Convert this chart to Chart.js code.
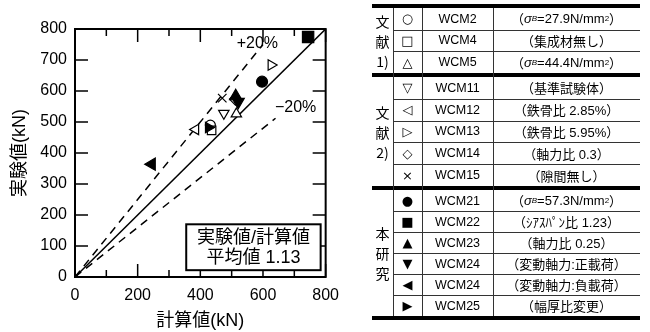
<!DOCTYPE html>
<html>
<head>
<meta charset="utf-8">
<script src="https://cdn.jsdelivr.net/npm/chart.js@4.4.0/dist/chart.umd.min.js"></script>
<style>
body { margin: 0; background: #fff; width: 650px; height: 332px; overflow: hidden; position: relative;
       font-family: 'Liberation Sans', 'Noto Sans CJK JP', sans-serif; color: #000; }
#wrap { position: absolute; left: 0; top: 0; width: 348px; height: 332px; }
#legend { position: absolute; left: 0; top: 0; width: 650px; height: 332px; pointer-events: none; }
.ln { position: absolute; background: #000; }
.cell { position: absolute; display: flex; align-items: center; justify-content: center; white-space: nowrap; }
.grp { position: absolute; display: flex; flex-direction: column; align-items: center; justify-content: center;
       font-family: 'Noto Sans CJK JP', sans-serif; font-size: 14px; line-height: 20px; }
.sym { font-family: 'DejaVu Sans', sans-serif; font-size: 13px; }
.name { font-size: 12.5px; }
.note { font-family: 'Liberation Sans', 'Noto Sans CJK JP', sans-serif; font-size: 13px; }
.note sub, .note sup { font-size: 8px; }
</style>
</head>
<body>
<div id="wrap"><canvas id="scatterChart" width="348" height="332"></canvas></div>
<div id="legend"></div>
<script>
// specimens, in table order
var specimens = ['WCM2', 'WCM4', 'WCM5', 'WCM11', 'WCM12', 'WCM13', 'WCM14', 'WCM15',
                 'WCM21', 'WCM22', 'WCM23', 'WCM24', 'WCM24', 'WCM25'];
var notes = [
    '（ <i>σ</i><sub><i>B</i></sub>=27.9N/mm<sup>2</sup>）',
    '（集成材無し）',
    '（ <i>σ</i><sub><i>B</i></sub>=44.4N/mm<sup>2</sup>）',
    '（基準試験体）',
    '（鉄骨比 2.85%）',
    '（鉄骨比 5.95%）',
    '（軸力比 0.3）',
    '（隙間無し）',
    '（ <i>σ</i><sub><i>B</i></sub>=57.3N/mm<sup>2</sup>）',
    '（ｼｱｽﾊﾟﾝ比 1.23）',
    '（軸力比 0.25）',
    '（変動軸力:正載荷）',
    '（変動軸力:負載荷）',
    '（幅厚比変更）'
];
var symbols = ['○', '□', '△', '▽', '◁', '▷', '◇', '×', '●', '■', '▲', '▼', '◀', '▶'];
var groupLabels = [['文', '献', '1)'], ['文', '献', '2)'], ['本', '研', '究']];
var groupSizes = [3, 5, 6];

// 計算値 (x) and 実験値 (y), kN
var calcValues = [432, 436, 515, 475, 385, 626, 512, 470, 597, 744, 513, 521, 245, 426];
var testValues = [490, 473, 526, 528, 476, 684, 574, 577, 630, 774, 583, 565, 364, 482];

// reference lines
var lineEqual = [{x: 0, y: 0}, {x: 800, y: 800}];
var linePlus = [{x: 0, y: 0}, {x: 600, y: 750}];
var lineMinus = [{x: 0, y: 0}, {x: 640, y: 512}];

var xTicks = [0, 200, 400, 600, 800];
var yTicks = [0, 100, 200, 300, 400, 500, 600, 700, 800];
var tickMarks = [0, 100, 200, 300, 400, 500, 600, 700, 800];

// marker styles (same order as specimens)
var markerStyles = [
    {style: 'circle', rot: 0, fill: false, r: 5},
    {style: 'rect', rot: 0, fill: false, r: 6},
    {style: 'triangle', rot: 0, fill: false, r: 6},
    {style: 'triangle', rot: 180, fill: false, r: 6},
    {style: 'triangle', rot: -90, fill: false, r: 6},
    {style: 'triangle', rot: 90, fill: false, r: 6},
    {style: 'rectRot', rot: 0, fill: false, r: 6},
    {style: 'crossRot', rot: 0, fill: false, r: 6},
    {style: 'circle', rot: 0, fill: true, r: 5.5},
    {style: 'rect', rot: 0, fill: true, r: 8},
    {style: 'triangle', rot: 0, fill: true, r: 7},
    {style: 'triangle', rot: 180, fill: true, r: 7},
    {style: 'triangle', rot: -90, fill: true, r: 7},
    {style: 'triangle', rot: 90, fill: true, r: 6}
];

var FONT = "'Liberation Sans', 'Noto Sans CJK JP', sans-serif";
Chart.defaults.font.family = FONT;
Chart.defaults.color = '#000';

var datasets = [];
specimens.forEach(function (name, i) {
    var st = markerStyles[i];
    datasets.push({
        label: name,
        data: [{x: calcValues[i], y: testValues[i]}],
        pointStyle: st.style,
        rotation: st.rot,
        pointRadius: st.r,
        backgroundColor: st.fill ? '#000' : '#fff',
        borderColor: '#000',
        borderWidth: 1.2,
        order: 20 - i
    });
});
datasets.push({type: 'line', data: lineEqual, borderColor: '#000', borderWidth: 1.5, pointRadius: 0, order: 100});
datasets.push({type: 'line', data: linePlus, borderColor: '#000', borderWidth: 1.5, borderDash: [8, 6], pointRadius: 0, order: 100});
datasets.push({type: 'line', data: lineMinus, borderColor: '#000', borderWidth: 1.5, borderDash: [8, 6], pointRadius: 0, order: 100});

var frameAndTicks = {
    id: 'frameAndTicks',
    beforeDatasetsDraw: function (chart) {
        var ctx = chart.ctx, a = chart.chartArea;
        var xs = chart.scales.x, ys = chart.scales.y;
        ctx.save();
        ctx.strokeStyle = '#000';
        ctx.lineWidth = 1.5;
        tickMarks.forEach(function (v) {
            var px = xs.getPixelForValue(v);
            var len = (v % 200 === 0) ? 13 : 7;
            ctx.beginPath();
            ctx.moveTo(px, a.bottom); ctx.lineTo(px, a.bottom - len);
            ctx.moveTo(px, a.top); ctx.lineTo(px, a.top + len);
            var py = ys.getPixelForValue(v);
            ctx.moveTo(a.left, py); ctx.lineTo(a.left + 13, py);
            ctx.moveTo(a.right, py); ctx.lineTo(a.right - 13, py);
            ctx.stroke();
        });
        ctx.lineWidth = 2;
        ctx.strokeRect(a.left, a.top, a.right - a.left, a.bottom - a.top);
        ctx.restore();
    },
    afterDatasetsDraw: function (chart) {
        var ctx = chart.ctx;
        var xs = chart.scales.x, ys = chart.scales.y;
        ctx.save();
        ctx.fillStyle = '#000';
        ctx.font = '16px ' + FONT;
        ctx.textAlign = 'center';
        ctx.textBaseline = 'middle';
        ctx.fillText('+20%', xs.getPixelForValue(582), ys.getPixelForValue(752));
        ctx.fillText('−20%', xs.getPixelForValue(704), ys.getPixelForValue(547));
        // summary box
        var bx0 = xs.getPixelForValue(355), bx1 = xs.getPixelForValue(784);
        var by0 = ys.getPixelForValue(170), by1 = ys.getPixelForValue(22);
        ctx.fillStyle = '#fff';
        ctx.fillRect(bx0, by0, bx1 - bx0, by1 - by0);
        ctx.strokeStyle = '#000';
        ctx.lineWidth = 2;
        ctx.strokeRect(bx0, by0, bx1 - bx0, by1 - by0);
        ctx.fillStyle = '#000';
        ctx.font = '18px ' + FONT;
        var cx = (bx0 + bx1) / 2;
        ctx.fillText('実験値/計算値', cx, by0 + 14);
        ctx.fillText('平均値 1.13', cx, by0 + 34);
        ctx.restore();
    }
};

var ctx = document.getElementById('scatterChart').getContext('2d');
var scatterChart = new Chart(ctx, {
    type: 'scatter',
    data: {datasets: datasets},
    options: {
        responsive: false,
        animation: false,
        layout: {padding: {top: 29, right: 7, left: 0, bottom: 0}},
        plugins: {legend: {display: false}, tooltip: {enabled: false}},
        scales: {
            x: {
                type: 'linear', min: 0, max: 800,
                afterBuildTicks: function (s) { s.ticks = xTicks.map(function (v) { return {value: v}; }); },
                afterFit: function (s) { s.height = 55; },
                grid: {display: false, drawTicks: false},
                border: {display: false},
                ticks: {padding: 9, color: '#000', font: {size: 16}},
                title: {display: true, text: '計算値(kN)', color: '#000', font: {size: 18}, padding: 0}
            },
            y: {
                type: 'linear', min: 0, max: 800,
                afterBuildTicks: function (s) { s.ticks = yTicks.map(function (v) { return {value: v}; }); },
                afterFit: function (s) { s.width = 75; },
                grid: {display: false, drawTicks: false},
                border: {display: false},
                ticks: {padding: 8, color: '#000', font: {size: 16}},
                title: {display: true, text: '実験値(kN)', color: '#000', font: {size: 18}, padding: {top: 9, bottom: 0}}
            }
        }
    },
    plugins: [frameAndTicks]
});

// legend table
var legend = document.getElementById('legend');
var cols = [372, 393, 422, 493, 640];
var groupBounds = [[8, 73], [77, 186], [190, 316]];
var thickTops = [4, 73, 186, 316];

function addLine(x, y, w, h, color) {
    var d = document.createElement('div');
    d.className = 'ln';
    d.style.left = x + 'px'; d.style.top = y + 'px';
    d.style.width = w + 'px'; d.style.height = h + 'px';
    if (color) d.style.background = color;
    legend.appendChild(d);
}
function addCell(cls, x0, x1, y0, y1, html) {
    var d = document.createElement('div');
    d.className = 'cell ' + cls;
    d.style.left = x0 + 'px'; d.style.width = (x1 - x0) + 'px';
    d.style.top = y0 + 'px'; d.style.height = (y1 - y0) + 'px';
    d.innerHTML = html;
    legend.appendChild(d);
}

thickTops.forEach(function (t) { addLine(cols[0], t, cols[4] - cols[0], 4); });
[1, 2, 3].forEach(function (c) { addLine(cols[c], 8, 1, 308, '#333'); });

var idx = 0;
groupSizes.forEach(function (n, g) {
    var a = groupBounds[g][0], b = groupBounds[g][1];
    var rh = (b - a) / n;
    var gl = document.createElement('div');
    gl.className = 'grp';
    gl.style.left = cols[0] + 'px'; gl.style.width = (cols[1] - cols[0]) + 'px';
    gl.style.top = a + 'px'; gl.style.height = (b - a) + 'px';
    gl.innerHTML = groupLabels[g].map(function (s) { return '<span>' + s + '</span>'; }).join('');
    legend.appendChild(gl);
    for (var i = 0; i < n; i++) {
        var y0 = a + i * rh, y1 = y0 + rh;
        addCell('sym', cols[1], cols[2], y0, y1, symbols[idx]);
        addCell('name', cols[2], cols[3], y0, y1, specimens[idx]);
        addCell('note', cols[3], cols[4], y0, y1, notes[idx]);
        if (i < n - 1) addLine(cols[1], Math.round(y1), cols[4] - cols[1], 1, '#333');
        idx++;
    }
});
</script>
</body>
</html>
